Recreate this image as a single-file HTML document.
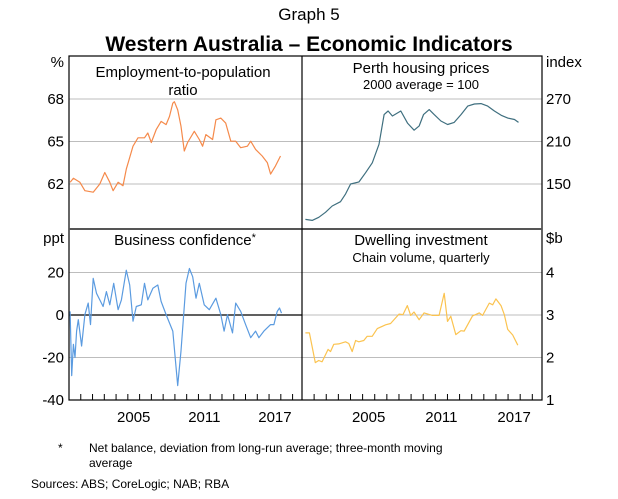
<!DOCTYPE html>
<html><head><meta charset="utf-8">
<style>
body{margin:0;background:#fff;}
svg{display:block;font-family:"Liberation Sans",Arial,sans-serif;}
</style></head>
<body>
<svg id="c" width="618" height="499" viewBox="0 0 618 499">
<text x="309" y="20" text-anchor="middle" font-size="17">Graph 5</text>
<text x="309" y="51" text-anchor="middle" font-size="21" font-weight="bold">Western Australia – Economic Indicators</text>
<g id="grid"></g>
<g id="marks"></g>
<g id="frame"></g>
<g id="labels" font-size="15"></g>
<text x="183" y="77" text-anchor="middle" font-size="15">Employment-to-population</text>
<text x="183" y="95" text-anchor="middle" font-size="15">ratio</text>
<text x="421" y="73" text-anchor="middle" font-size="15">Perth housing prices</text>
<text x="421" y="89" text-anchor="middle" font-size="13">2000 average = 100</text>
<text x="185" y="245" text-anchor="middle" font-size="15">Business confidence<tspan font-size="11" dy="-4">*</tspan></text>
<text x="421" y="245" text-anchor="middle" font-size="15">Dwelling investment</text>
<text x="421" y="262" text-anchor="middle" font-size="13">Chain volume, quarterly</text>
<text x="58" y="452" font-size="12">*</text>
<text x="89" y="452" font-size="12">Net balance, deviation from long-run average; three-month moving</text>
<text x="89" y="467" font-size="12">average</text>
<text x="31" y="488" font-size="12">Sources:   ABS; CoreLogic; NAB; RBA</text>
</svg>
<script>
const empYears=[2000.1,2000.37,2000.93,2001.35,2002.06,2002.62,2003.04,2003.47,2003.75,2004.17,2004.59,2004.87,2005.44,2005.86,2006.42,2006.7,2006.99,2007.41,2007.83,2008.25,2008.54,2008.82,2008.96,2009.24,2009.52,2009.8,2010.08,2010.65,2011.07,2011.35,2011.63,2012.2,2012.48,2012.9,2013.32,2013.75,2014.17,2014.59,2015.16,2015.44,2015.86,2016.42,2016.85,2017.13,2017.55,2017.97];
const empValues=[62.12,62.4,62.12,61.53,61.42,62.0,62.81,62.12,61.53,62.12,61.88,63.05,64.67,65.26,65.26,65.6,64.93,65.84,66.42,66.19,66.77,67.7,67.81,67.23,66.07,64.33,64.93,65.72,65.14,64.67,65.49,65.14,66.53,66.65,66.3,65.02,65.02,64.56,64.67,65.02,64.44,63.98,63.51,62.7,63.28,63.98];
const houseYears=[2000.28,2000.84,2001.39,2001.94,2002.49,2003.18,2003.6,2004.01,2004.7,2005.25,2005.8,2006.35,2006.77,2007.1,2007.46,2008.15,2008.7,2009.25,2009.67,2010.02,2010.49,2010.91,2011.46,2012.01,2012.56,2013.12,2013.67,2014.22,2014.77,2015.32,2015.87,2016.43,2016.98,2017.53,2017.86];
const houseValues=[100,98.6,103,110,119,125,136,150,153,166,180,206,248,253,246,253,236,226,232,248,255,248,239,234,237,248,260,263,263.5,260,253,247,243,241,237];
const busYears=[2000.09,2000.23,2000.37,2000.51,2000.65,2000.79,2001.07,2001.35,2001.63,2001.83,2002.06,2002.34,2002.62,2002.9,2003.18,2003.47,2003.8,2004.17,2004.45,2004.87,2005.16,2005.44,2005.72,2006.14,2006.42,2006.7,2007.13,2007.55,2007.83,2008.25,2008.82,2009.24,2009.52,2009.94,2010.23,2010.51,2010.79,2011.07,2011.49,2011.92,2012.48,2012.9,2013.18,2013.47,2013.89,2014.17,2014.59,2015.01,2015.44,2015.86,2016.14,2016.56,2017.13,2017.41,2017.69,2017.89,2018.06];
const busValues=[1.7,-28.5,-13.8,-20,-7.6,-2.2,-14.6,0.2,5.6,-4.5,17.2,10.2,7.1,4.0,11.0,4.8,14.9,2.5,7.1,21.1,14.1,-2.9,4.0,4.8,14.9,7.1,12.6,14.1,6.4,0.2,-7.6,-33.2,-16.9,14.9,21.9,18.0,7.9,14.9,4.8,2.5,7.9,0.2,-7.6,0.2,-8.4,5.6,1.7,-4.5,-10.7,-7.6,-10.7,-7.6,-4.5,-4.5,1.7,3.3,0.9];
const dwYears=[2000.28,2000.61,2001.1,2001.38,2001.66,2002.15,2002.35,2002.62,2003.04,2003.59,2003.86,2004.14,2004.42,2004.69,2005.1,2005.38,2005.79,2006.21,2006.9,2007.31,2008.0,2008.33,2008.69,2008.97,2009.24,2009.66,2010.07,2010.76,2011.31,2011.73,2012.0,2012.28,2012.69,2013.11,2013.38,2014.07,2014.62,2014.9,2015.45,2015.73,2016.0,2016.42,2016.69,2016.97,2017.38,2017.8];
const dwValues=[2.58,2.58,1.88,1.93,1.9,2.19,2.14,2.31,2.32,2.37,2.33,2.14,2.4,2.37,2.4,2.5,2.5,2.68,2.77,2.8,3.02,3.01,3.22,2.99,3.07,2.89,3.05,2.99,2.99,3.51,2.85,2.97,2.54,2.63,2.62,2.98,3.05,2.99,3.28,3.24,3.38,3.22,3.01,2.66,2.53,2.29];
const leftTicks=["68","65","62"];const leftTickVals=[68,65,62];
const rightTicks=["270","210","150"];const rightTickVals=[270,210,150];
const bLeftTicks=["20","0","-20","-40"];const bLeftTickVals=[20,0,-20,-40];
const bRightTicks=["4","3","2","1"];const bRightTickVals=[4,3,2,1];
const yearLabels=["2005","2011","2017"];const yearLabelVals=[2005,2011,2017];

const NS="http://www.w3.org/2000/svg";
const L0=69,L1=302,R0=302,R1=542,T0=56,M=229,B1=400;
const Y0=2000,Y1=2019.8;
const xl=y=>L0+(y-Y0)/(Y1-Y0)*(L1-L0);
const xr=y=>R0+(y-Y0)/(Y1-Y0)*(R1-R0);
const yEmp=v=>99+(68-v)*(184-99)/6;
const yHouse=v=>99+(270-v)*(184-99)/120;
const yBus=v=>315-v*(357-272)/40;
const yDw=v=>315-(v-3)*(357-272)/2;
function mk(tag,attrs,parent){const e=document.createElementNS(NS,tag);for(const k in attrs)e.setAttribute(k,attrs[k]);parent.appendChild(e);return e;}
const grid=document.getElementById('grid'),marks=document.getElementById('marks'),frame=document.getElementById('frame'),labels=document.getElementById('labels');
leftTickVals.forEach(v=>{const l=mk('line',{x1:L0,x2:R1,y1:yEmp(v),y2:yEmp(v),stroke:'#bdbdbd','stroke-width':1},grid);

});
[20,-20].forEach(v=>{const l=mk('line',{x1:L0,x2:R1,y1:yBus(v),y2:yBus(v),stroke:'#bdbdbd','stroke-width':1},grid);

});
const dwGrid=mk('line',{x1:R0,x2:R1,y1:yDw(3),y2:yDw(3),stroke:'#bdbdbd','stroke-width':1},grid);


const zero=mk('line',{x1:L0,x2:L1,y1:yBus(0),y2:yBus(0),stroke:'#000','stroke-width':1.2},grid);


function series(xs,vs,fx,fy,color,name){
  const d=xs.map((x,i)=>(i?'L':'M')+fx(x).toFixed(1)+','+fy(vs[i]).toFixed(1)).join('');
  const p=mk('path',{d:d,fill:'none',stroke:color,'stroke-width':1.2,'stroke-linejoin':'round'},marks);
  
  
}
series(empYears,empValues,xl,yEmp,'#f58a4b','employment-line');
series(houseYears,houseValues,xr,yHouse,'#3f6f7f','housing-prices-line');
series(busYears,busValues,xl,yBus,'#5b9be0','business-confidence-line');
series(dwYears,dwValues,xr,yDw,'#fbc34f','dwelling-investment-line');
const box=mk('rect',{x:L0,y:T0,width:R1-L0,height:B1-T0,fill:'none',stroke:'#000','stroke-width':1.2},frame);


const mid=mk('line',{x1:L0,x2:R1,y1:M,y2:M,stroke:'#555','stroke-width':2},frame);


const vd=mk('line',{x1:L1,x2:L1,y1:T0,y2:B1,stroke:'#000','stroke-width':1.2},frame);


for(let y=2001;y<=2019;y++){
  [xl(y),xr(y)].forEach(x=>{const t=mk('line',{x1:x,x2:x,y1:B1,y2:B1-6,stroke:'#000','stroke-width':1},frame);
  
  });
}
function txt(x,y,s,anchor,name){const t=mk('text',{x:x,y:y,'text-anchor':anchor},labels);t.textContent=s;

}
txt(64,67,'%','end','left-unit-top');
txt(546,67,'index','start','right-unit-top');
txt(64,243,'ppt','end','left-unit-bottom');
txt(546,243,'$b','start','right-unit-bottom');
leftTickVals.forEach((v,i)=>txt(64,yEmp(v)+5,leftTicks[i],'end','left-tick-label'));
rightTickVals.forEach((v,i)=>txt(546,yHouse(v)+5,rightTicks[i],'start','right-tick-label'));
bLeftTickVals.forEach((v,i)=>txt(64,yBus(v)+5,bLeftTicks[i],'end','left-tick-label-bottom'));
bRightTickVals.forEach((v,i)=>txt(546,yDw(v)+5,bRightTicks[i],'start','right-tick-label-bottom'));
yearLabelVals.forEach((v,i)=>{txt(xl(v+0.5),422,yearLabels[i],'middle','x-label-left');txt(xr(v+0.5),422,yearLabels[i],'middle','x-label-right');});
</script>
</body></html>
